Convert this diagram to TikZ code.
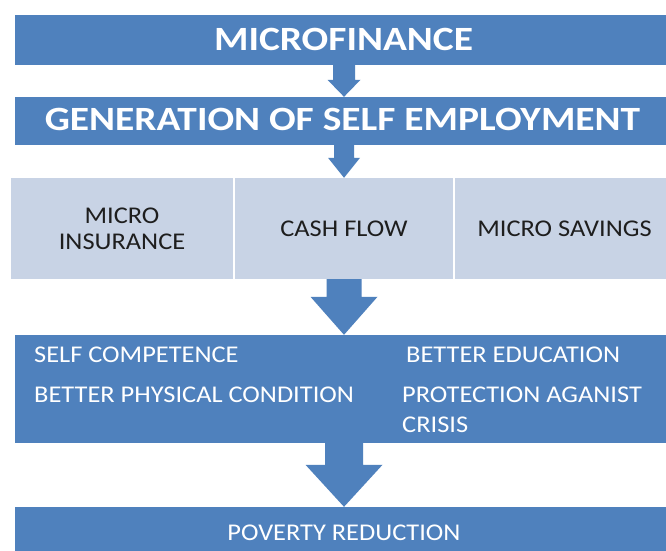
\documentclass[tikz,border=0pt]{standalone}
\usepackage{fontspec}
\setmainfont{Carlito}
\newfontfamily\bigfont[FakeStretch=1.16]{Carlito Bold}
\newfontfamily\smallfont[FakeStretch=1.10]{Carlito}
\usetikzlibrary{calc}
\definecolor{boxblue}{RGB}{79,129,189}
\definecolor{cellblue}{RGB}{200,211,229}
\definecolor{celltext}{RGB}{30,30,30}
\tikzset{
  bluebox/.style={fill=boxblue, draw=none, inner sep=0pt, minimum width=651pt, text=white},
  cellbox/.style={fill=cellblue, draw=none, inner sep=0pt, minimum height=101pt, text=celltext, align=center, font=\smallfont\fontsize{24}{26}\selectfont},
  bigtext/.style={font=\bigfont\fontsize{34}{38}\selectfont},
  smalltext/.style={font=\smallfont\fontsize{24}{28}\selectfont, text=white, inner sep=0pt},
}
% #1 from node, #2 to node, #3 shaft half width, #4 head half width, #5 head length
\newcommand\flowarrow[5]{%
  \fill[boxblue] let \p1=(#1.south), \p2=(#2.north) in
    (344pt-#3,\y1) -- (344pt+#3,\y1) -- (344pt+#3,\y2+#5) -- (344pt+#4,\y2+#5)
    -- (344pt,\y2) -- (344pt-#4,\y2+#5) -- (344pt-#3,\y2+#5) -- cycle;}
\begin{document}
\begin{tikzpicture}[x=1pt,y=-1pt]
\useasboundingbox[fill=white] (0,0) rectangle (666,550);
% boxes
\node[bluebox, minimum height=50pt] (b1) at (340.5,40) {};
\node[bigtext, text=white, anchor=base] (t1) at (343.5,50) {MICROFINANCE};
\node[bluebox, minimum height=48pt] (b2) at (340.5,121) {};
\node[bigtext, text=white, anchor=base] (t2) at (342.5,130) {GENERATION OF SELF EMPLOYMENT};
\node[cellbox, minimum width=222pt] (c1) at (122,228.5) {MICRO\\INSURANCE};
\node[cellbox, minimum width=218pt] (c2) at (344,228.5) {CASH FLOW};
\node[cellbox, minimum width=219pt] (c3) at (564.5,228.5) {MICRO SAVINGS};
\node[bluebox, minimum height=108pt] (b4) at (340.5,389) {};
\node[smalltext, anchor=base west] (s1) at (34,362) {SELF COMPETENCE};
\node[smalltext, anchor=base west] (s2) at (34,402) {BETTER PHYSICAL CONDITION};
\node[smalltext, anchor=base west] (s3) at (406,362) {BETTER EDUCATION};
\node[smalltext, anchor=base west] (s4) at (402,402) {PROTECTION AGANIST};
\node[smalltext, anchor=base west] (s5) at (402,432) {CRISIS};
\node[bluebox, minimum height=50pt] (b5) at (340.5,532) {};
\node[smalltext, anchor=base] (t5) at (344,540) {POVERTY REDUCTION};
% arrows
\flowarrow{b1}{b2}{11pt}{16.5pt}{17pt}
\flowarrow{b2}{c2}{10pt}{16pt}{20pt}
\flowarrow{c2}{b4}{17.5pt}{33.5pt}{38pt}
\flowarrow{b4}{b5}{19pt}{38.5pt}{42pt}
\end{tikzpicture}
\end{document}
